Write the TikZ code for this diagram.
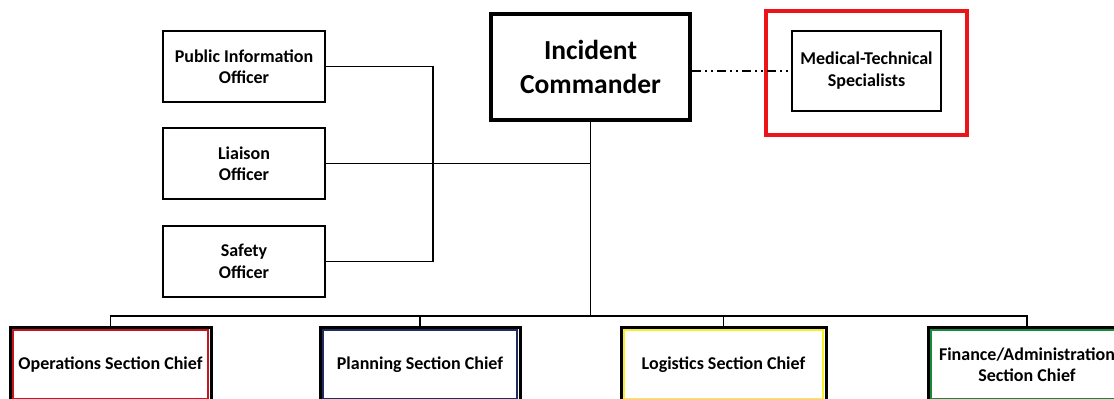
\documentclass[tikz,border=0pt]{standalone}
\usepackage{fontspec}
\setmainfont{Carlito}
\usetikzlibrary{positioning}

\definecolor{opsred}{RGB}{200,20,30}
\definecolor{planblue}{RGB}{30,45,95}
\definecolor{logiyellow}{RGB}{245,240,40}
\definecolor{fingreen}{RGB}{20,140,60}
\definecolor{frame}{RGB}{235,20,25}

\tikzset{
  officer/.style={draw, line width=2.5pt, minimum width=162pt, minimum height=71pt,
    align=center, font=\fontsize{18}{21.5}\selectfont\bfseries},
  chief/.style={draw, line width=3pt, minimum height=75pt,
    align=center, font=\fontsize{18}{21.5}\selectfont\bfseries},
  link/.style={line width=1.7pt}
}

\begin{document}
\begin{tikzpicture}[x=1pt, y=-1pt]
    \useasboundingbox (0,0) rectangle (1114,399);
    \clip (0,0) rectangle (1114,399);
    % command staff
    \node[draw, line width=3.5pt, minimum width=199pt, minimum height=106pt, align=center,
      font=\fontsize{27.5}{34}\selectfont\bfseries] (ic) at (590.5,67) {Incident\\Commander};
    \node[draw, line width=2.5pt, minimum width=149pt, minimum height=80pt, align=center,
      font=\fontsize{18}{22}\selectfont\bfseries] (med) at (866.5,71) {Medical-Technical\\Specialists};
    \node[draw=frame, line width=3.5pt, minimum width=201pt, minimum height=124pt] (medframe) at (866.5,73) {};
    \node[officer] (pio) at (244,66.5) {Public Information\\Officer};
    \node[officer] (liaison) at (244,163.5) {Liaison\\Officer};
    \node[officer] (safety) at (244,261.5) {Safety\\Officer};
    % general staff
    \node[chief, minimum width=201pt] (ops) at (110.5,364.5) {Operations Section Chief};
    \node[chief, minimum width=200pt] (plan) at (420,364.5) {Planning Section Chief};
    \node[chief, minimum width=205pt] (logi) at (723.5,364.5) {Logistics Section Chief};
    \node[chief, minimum width=198pt] (fin) at (1027,364.5) {Finance/Administration\\Section Chief};
    \foreach \n/\c in {ops/opsred, plan/planblue, logi/logiyellow, fin/fingreen}
      \draw[\c, line width=2.5pt] ([shift={(4.5,4.5)}]\n.north west) rectangle ([shift={(-4.5,-4.5)}]\n.south east);
    % connectors
    \coordinate (join) at (433,0);
    \coordinate (bus) at (590.5,316);
    \draw[link] (pio.east) -| (join |- safety.east) -- (safety.east);
    \draw[link] (liaison.east) -- (liaison.east -| ic.south);
    \draw[link] (ic.south) -- (bus);
    \foreach \n in {ops, plan, logi, fin}
      \draw[link] (bus) -| (\n.north);
    \draw[link, dash pattern=on 9pt off 4pt on 2pt off 4pt on 2pt off 4pt] (ic.east |- med.west) -- (med.west);
\end{tikzpicture}
\end{document}
